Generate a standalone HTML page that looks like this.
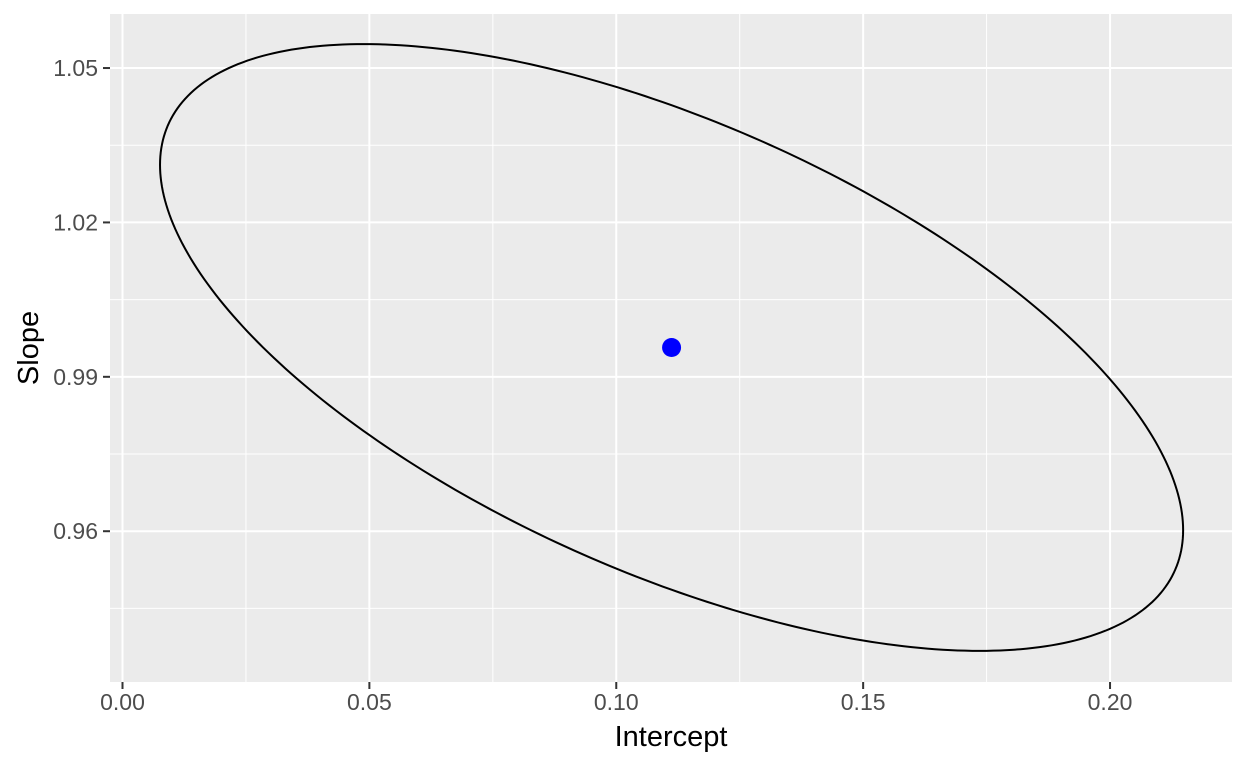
<!DOCTYPE html>
<html><head><meta charset="utf-8"><style>
html,body{margin:0;padding:0;background:#fff;}
svg{display:block;font-family:"Liberation Sans",sans-serif;}
</style></head><body>
<svg id="chart" width="1248" height="768" viewBox="0 0 1248 768" xmlns="http://www.w3.org/2000/svg"></svg>
<script>
const xTicks=[0.00,0.05,0.10,0.15,0.20];
const xTickLabels=["0.00","0.05","0.10","0.15","0.20"];
const yTicks=[0.96,0.99,1.02,1.05];
const yTickLabels=["0.96","0.99","1.02","1.05"];
const centerX=[0.1112];
const centerY=[0.9957];
const halfWidth=[0.1036];
const halfHeight=[0.05895];
const correlation=[-0.602];
const pointX=[0.1112];
const pointY=[0.9957];

const L=110,R=1232,T=14,B=682;
const xMin=-0.00253,xMax=0.2247,yMin=0.9307,yMax=1.0605;
const sx=v=>L+(v-xMin)/(xMax-xMin)*(R-L);
const sy=v=>B-(v-yMin)/(yMax-yMin)*(B-T);
const svg=document.getElementById('chart');
const NS='http://www.w3.org/2000/svg';
function mk(tag,attrs,parent){const e=document.createElementNS(NS,tag);for(const k in attrs)e.setAttribute(k,attrs[k]);(parent||svg).appendChild(e);return e;}

const bg=mk('rect',{x:L,y:T,width:R-L,height:B-T,fill:'#ebebeb'});


for(let i=0;i<xTicks.length-1;i++){const v=(xTicks[i]+xTicks[i+1])/2;const l=mk('line',{x1:sx(v),x2:sx(v),y1:T,y2:B,stroke:'#fff','stroke-width':1});

}
for(let i=0;i<yTicks.length-1;i++){const v=(yTicks[i]+yTicks[i+1])/2;const l=mk('line',{x1:L,x2:R,y1:sy(v),y2:sy(v),stroke:'#fff','stroke-width':1});

}
{const v=yTicks[0]-(yTicks[1]-yTicks[0])/2;const l=mk('line',{x1:L,x2:R,y1:sy(v),y2:sy(v),stroke:'#fff','stroke-width':1});

}
xTicks.forEach((v,i)=>{const x=sx(v);
const g=mk('line',{x1:x,x2:x,y1:T,y2:B,stroke:'#fff','stroke-width':2});


const t=mk('line',{x1:x,x2:x,y1:B,y2:B+7,stroke:'#333','stroke-width':2});


const tx=mk('text',{x:x,y:710,'text-anchor':'middle','font-size':23,fill:'#4d4d4d'});tx.textContent=xTickLabels[i];

});
yTicks.forEach((v,i)=>{const y=sy(v);
const g=mk('line',{x1:L,x2:R,y1:y,y2:y,stroke:'#fff','stroke-width':2});


const t=mk('line',{x1:L-7,x2:L,y1:y,y2:y,stroke:'#333','stroke-width':2});


const tx=mk('text',{x:98,y:y+8,'text-anchor':'end','font-size':23,fill:'#4d4d4d'});tx.textContent=yTickLabels[i];

});
{const phi=Math.acos(correlation[0]);let d='';
for(let k=0;k<=360;k++){const t=k/360*2*Math.PI;
const x=sx(centerX[0]+halfWidth[0]*Math.cos(t));const y=sy(centerY[0]+halfHeight[0]*Math.cos(t-phi));
d+=(k?'L':'M')+x.toFixed(2)+','+y.toFixed(2);}
const p=mk('path',{d:d+'Z',fill:'none',stroke:'#000','stroke-width':2});

}
pointX.forEach((v,i)=>{const c=mk('circle',{cx:sx(v),cy:sy(pointY[i]),r:9.5,fill:'#0000ff'});

});
const xt=mk('text',{x:(L+R)/2,y:746,'text-anchor':'middle','font-size':29,fill:'#000'});xt.textContent='Intercept';


const yt=mk('text',{x:0,y:0,'text-anchor':'middle','font-size':29,fill:'#000',transform:`translate(38,${(T+B)/2}) rotate(-90)`});yt.textContent='Slope';


</script>
</body></html>
